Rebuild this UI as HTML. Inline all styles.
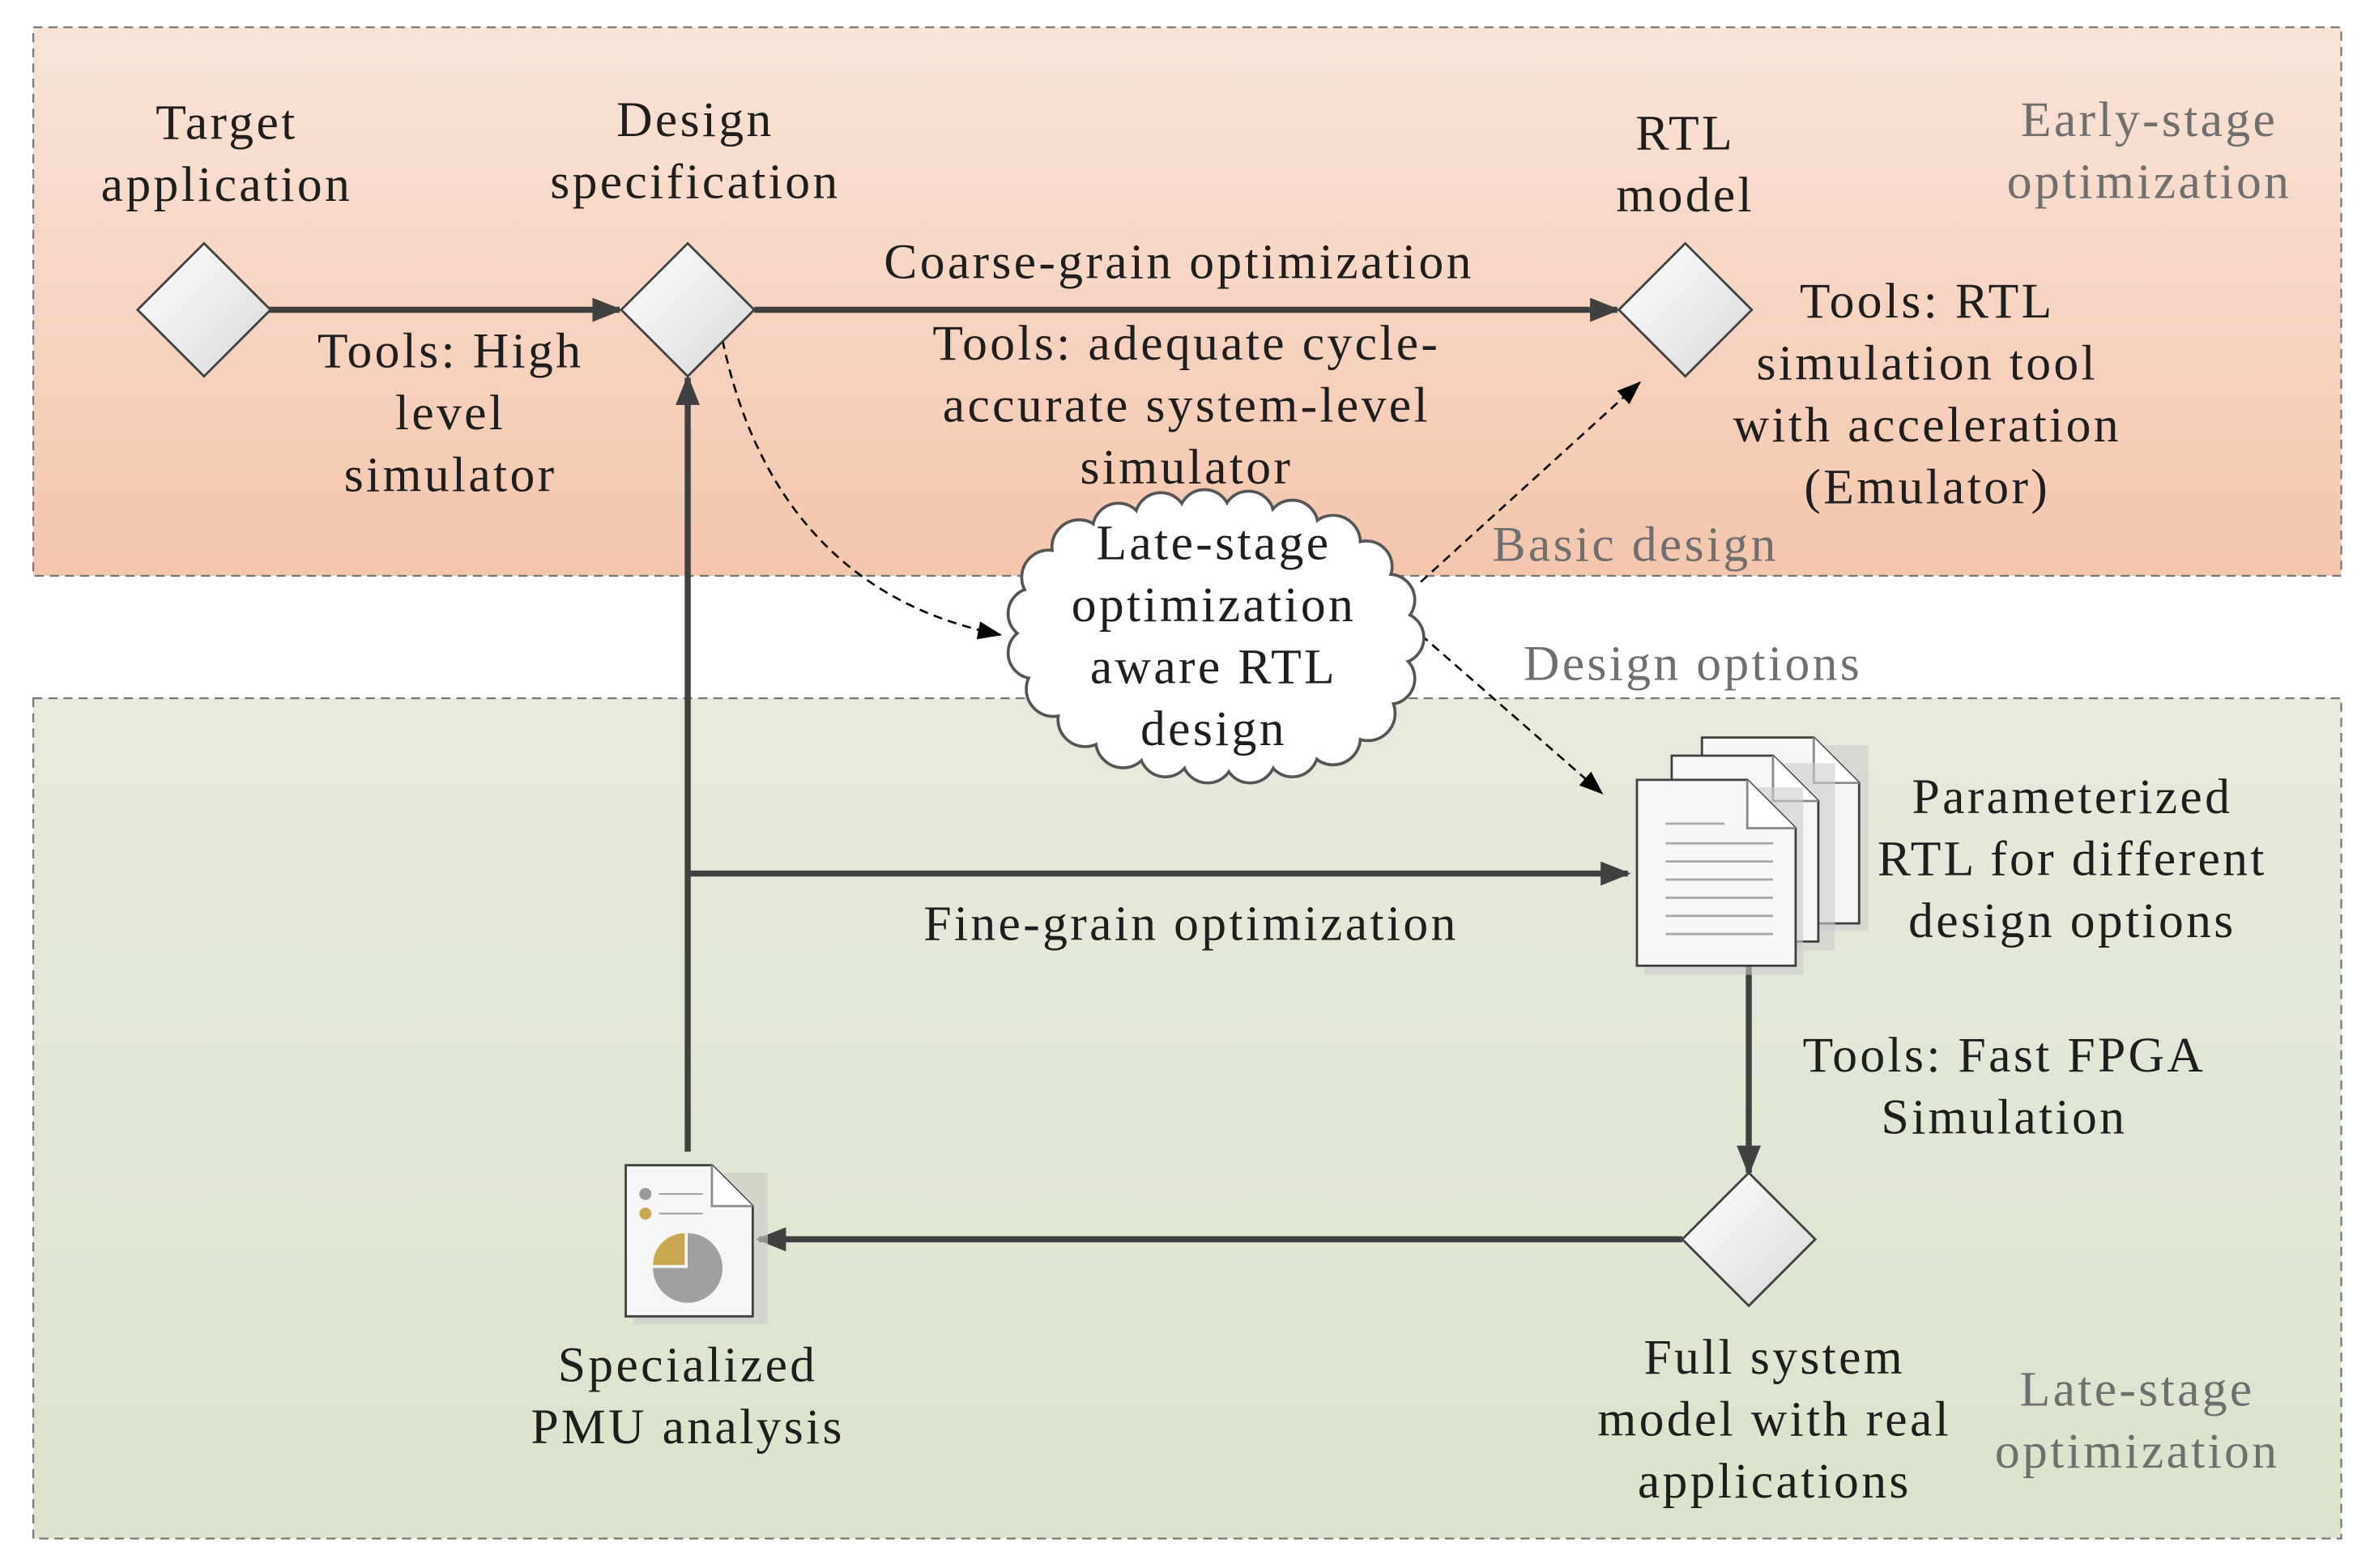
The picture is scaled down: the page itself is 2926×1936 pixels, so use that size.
<!DOCTYPE html>
<html><head><meta charset="utf-8"><style>
html,body{margin:0;padding:0;background:#fff}
svg{display:block}
text{font-family:"Liberation Serif",serif;font-size:33px;letter-spacing:1.8px;fill:#1e1e1e}
.g{fill:#6f6f6f}
</style></head><body>
<svg width="2926" height="1936" viewBox="0 0 1568 1037.5" preserveAspectRatio="none" xmlns="http://www.w3.org/2000/svg">
<defs>
<linearGradient id="top" x1="0" y1="0" x2="0" y2="1"><stop offset="0" stop-color="#f9e3d7"/><stop offset="1" stop-color="#f4c6ad"/></linearGradient>
<linearGradient id="bot" x1="0" y1="0" x2="0" y2="1"><stop offset="0" stop-color="#e6eadd"/><stop offset="1" stop-color="#dbe3cc"/></linearGradient>
<linearGradient id="dia" x1="0" y1="0" x2="1" y2="1"><stop offset="0" stop-color="#ffffff"/><stop offset="1" stop-color="#d8d8d8"/></linearGradient>
<marker id="ahb" markerWidth="20" markerHeight="20" refX="18" refY="10" orient="auto" markerUnits="userSpaceOnUse" viewBox="0 0 20 20"><path d="M0,2 L20,10 L0,18 z" fill="#404040"/></marker>
<marker id="ahd" markerWidth="16" markerHeight="16" refX="15" refY="8" orient="auto" markerUnits="userSpaceOnUse" viewBox="0 0 16 16"><path d="M0,2 L16,8 L0,14 z" fill="#000"/></marker>
</defs>
<rect x="22" y="18" width="1527" height="363" fill="url(#top)" stroke="#777" stroke-width="1.2" stroke-dasharray="6,4"/>
<rect x="22" y="462" width="1527" height="556" fill="url(#bot)" stroke="#777" stroke-width="1.2" stroke-dasharray="6,4"/>

<g stroke="#404040" stroke-width="4" fill="none">
<line x1="178" y1="205" x2="410" y2="205" marker-end="url(#ahb)"/>
<line x1="499" y1="205" x2="1070" y2="205" marker-end="url(#ahb)"/>
<line x1="455" y1="762" x2="455" y2="250" marker-end="url(#ahb)"/>
<line x1="455" y1="578" x2="1077" y2="578" marker-end="url(#ahb)"/>
<line x1="1157" y1="634" x2="1157" y2="776" marker-end="url(#ahb)"/>
<line x1="1113" y1="820" x2="502" y2="820" marker-end="url(#ahb)"/>
</g>
<g stroke="#000" stroke-width="1.4" fill="none" stroke-dasharray="6,4">
<path d="M478,225 C500,330 560,400 662,420" marker-end="url(#ahd)"/>
<path d="M940,385 L1085,253" marker-end="url(#ahd)"/>
<path d="M940,420 L1060,525" marker-end="url(#ahd)"/>
</g>

<g stroke="#404040" stroke-width="1.5" fill="url(#dia)">
<polygon points="135,161 179,205 135,249 91,205"/>
<polygon points="455,161 499,205 455,249 411,205"/>
<polygon points="1115,161 1159,205 1115,249 1071,205"/>
<polygon points="1157,776 1201,820 1157,864 1113,820"/>
</g>

<g>
<g stroke="#555" stroke-width="2" fill="#fff">
<circle cx="925" cy="422" r="17"/><circle cx="919" cy="449" r="17"/><circle cx="905" cy="472" r="18"/><circle cx="882" cy="488" r="18"/><circle cx="855" cy="497" r="17"/><circle cx="827" cy="501" r="17"/><circle cx="799" cy="501" r="17"/><circle cx="771" cy="497" r="17"/><circle cx="743" cy="490" r="18"/><circle cx="718" cy="476" r="18"/><circle cx="697" cy="456" r="18"/><circle cx="684" cy="432" r="17"/><circle cx="684" cy="406" r="17"/><circle cx="694" cy="382" r="18"/><circle cx="714" cy="362" r="18"/><circle cx="740" cy="350" r="17"/><circle cx="768" cy="343" r="17"/><circle cx="797" cy="341" r="17"/><circle cx="826" cy="342" r="17"/><circle cx="855" cy="348" r="17"/><circle cx="882" cy="359" r="18"/><circle cx="904" cy="375" r="17"/><circle cx="919" cy="397" r="17"/>
</g>
<g fill="#fff">
<circle cx="925" cy="422" r="16"/><circle cx="919" cy="449" r="16"/><circle cx="905" cy="472" r="17"/><circle cx="882" cy="488" r="17"/><circle cx="855" cy="497" r="16"/><circle cx="827" cy="501" r="16"/><circle cx="799" cy="501" r="16"/><circle cx="771" cy="497" r="16"/><circle cx="743" cy="490" r="17"/><circle cx="718" cy="476" r="17"/><circle cx="697" cy="456" r="17"/><circle cx="684" cy="432" r="16"/><circle cx="684" cy="406" r="16"/><circle cx="694" cy="382" r="17"/><circle cx="714" cy="362" r="17"/><circle cx="740" cy="350" r="16"/><circle cx="768" cy="343" r="16"/><circle cx="797" cy="341" r="16"/><circle cx="826" cy="342" r="16"/><circle cx="855" cy="348" r="16"/><circle cx="882" cy="359" r="17"/><circle cx="904" cy="375" r="16"/><circle cx="919" cy="397" r="16"/>
<ellipse cx="803" cy="421" rx="120" ry="78"/>
</g>
</g>

<g>
<rect x="1131" y="493" width="105" height="123" fill="#ccc" opacity="0.6"/>
<path d="M1126,488 L1200,488 L1230,518 L1230,611 L1126,611 z" fill="#f6f6f6" stroke="#404040" stroke-width="1.5"/>
<path d="M1200,488 L1200,518 L1230,518" fill="#fff" stroke="#8a8a8a" stroke-width="1.5"/>
<rect x="1110" y="505" width="104" height="124" fill="#ccc" opacity="0.6"/>
<path d="M1106,500 L1173,500 L1203,530 L1203,623 L1106,623 z" fill="#f6f6f6" stroke="#404040" stroke-width="1.5"/>
<path d="M1173,500 L1173,530 L1203,530" fill="#fff" stroke="#8a8a8a" stroke-width="1.5"/>
<rect x="1088" y="521" width="105" height="124" fill="#ccc" opacity="0.6"/>
<path d="M1083,516 L1156,516 L1188,548 L1188,639 L1083,639 z" fill="#f7f7f7" stroke="#404040" stroke-width="1.5"/>
<path d="M1156,516 L1156,548 L1188,548" fill="#fff" stroke="#8a8a8a" stroke-width="1.5"/>
<g stroke="#a8a8a8" stroke-width="1.5">
<line x1="1102" y1="545" x2="1141" y2="545"/>
<line x1="1102" y1="558" x2="1173" y2="558"/>
<line x1="1102" y1="570" x2="1173" y2="570"/>
<line x1="1102" y1="582" x2="1173" y2="582"/>
<line x1="1102" y1="594" x2="1173" y2="594"/>
<line x1="1102" y1="606" x2="1173" y2="606"/>
<line x1="1102" y1="618" x2="1173" y2="618"/>
</g>
</g>

<g>
<rect x="419" y="776" width="89" height="100" fill="#ccc" opacity="0.6"/>
<path d="M414,771 L471,771 L498,798 L498,871 L414,871 z" fill="#f6f6f6" stroke="#404040" stroke-width="1.5"/>
<path d="M471,771 L471,798 L498,798" fill="#fff" stroke="#8a8a8a" stroke-width="1.5"/>
<circle cx="427" cy="790" r="4" fill="#999"/>
<circle cx="427" cy="803" r="4" fill="#c9a850"/>
<line x1="436" y1="790" x2="465" y2="790" stroke="#999" stroke-width="1"/>
<line x1="436" y1="803" x2="465" y2="803" stroke="#999" stroke-width="1"/>
<path d="M455,816 A23,23 0 1,1 432,839 L455,839 z" fill="#a0a0a1"/>
<path d="M453,816 L453,837 L432,837 A21,21 0 0,1 453,816 z" fill="#c9a850"/>
</g>

<g text-anchor="middle">
<text x="150" y="92">Target</text><text x="150" y="133">application</text>
<text x="460" y="90">Design</text><text x="460" y="131">specification</text>
<text x="1115" y="99">RTL</text><text x="1115" y="140">model</text>
<text class="g" x="1422" y="90">Early-stage</text><text class="g" x="1422" y="131">optimization</text>
<text x="780" y="184">Coarse-grain optimization</text>
<text x="298" y="243">Tools: High</text><text x="298" y="284">level</text><text x="298" y="325">simulator</text>
<text x="785" y="238">Tools: adequate cycle-</text><text x="785" y="279">accurate system-level</text><text x="785" y="320">simulator</text>
<text x="1275" y="210">Tools: RTL</text><text x="1275" y="251">simulation tool</text><text x="1275" y="292">with acceleration</text><text x="1275" y="333">(Emulator)</text>
<text class="g" x="1082" y="371">Basic design</text>
<text class="g" x="1120" y="450">Design options</text>
<text x="803" y="370">Late-stage</text><text x="803" y="411">optimization</text><text x="803" y="452">aware RTL</text><text x="803" y="493">design</text>
<text x="1371" y="538">Parameterized</text><text x="1371" y="579">RTL for different</text><text x="1371" y="620">design options</text>
<text x="788" y="622">Fine-grain optimization</text>
<text x="1326" y="709">Tools: Fast FPGA</text><text x="1326" y="750">Simulation</text>
<text x="455" y="914">Specialized</text><text x="455" y="955">PMU analysis</text>
<text x="1174" y="909">Full system</text><text x="1174" y="950">model with real</text><text x="1174" y="991">applications</text>
<text class="g" x="1414" y="930">Late-stage</text><text class="g" x="1414" y="971">optimization</text>
</g>
</svg>
</body></html>
